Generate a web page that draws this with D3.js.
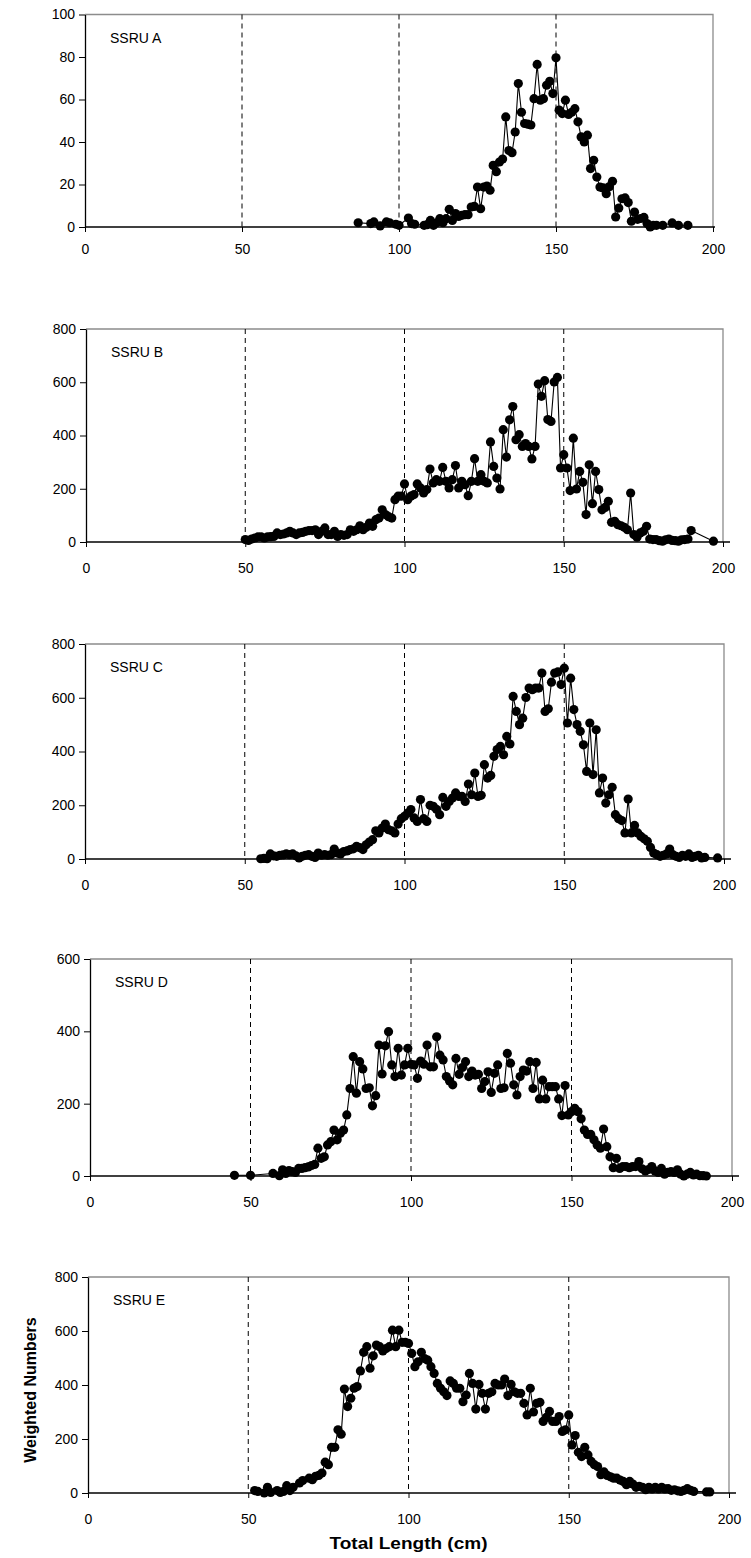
<!DOCTYPE html>
<html>
<head>
<meta charset="utf-8">
<script src="https://cdn.jsdelivr.net/npm/d3@7"></script>
<style>
  body { margin: 0; background: #fff; }
  svg { display: block; }
  text { font-family: "Liberation Sans", Arial, sans-serif; fill: #000; }
</style>
</head>
<body>
<svg id="chart" width="751" height="1558"></svg>
<script>
// tick labels / categories
const panelNames = ["SSRU A", "SSRU B", "SSRU C", "SSRU D", "SSRU E"];
const yMaxes = [100, 800, 800, 600, 800];
const yTickSteps = [20, 200, 200, 200, 200];
const xTickValues = [0, 50, 100, 150, 200];
const gridValues = [50, 100, 150];

// [total length (cm), weighted numbers]
const ssruA = [[87,2],[91,1.6],[92,2.4],[94,0.5],[96,2.4],[97,2],[99,1.3],[100,0.8],[103,4.2],[104,1.6],[105,1.3],[108,0.8],[109,1.1],[110,3.1],[111,0.8],[112,2],[113,3.9],[114,2],[115,3.9],[116,8.3],[117,3.1],[118,6.3],[119,5],[120,5.5],[121,5.8],[122,5.8],[123,9.4],[124,9.7],[125,18.8],[126,8.6],[127,18.8],[128,19.3],[129,17.3],[130,29],[131,26],[132,30.6],[133,32],[134,51.8],[135,36],[136,35],[137,44.7],[138,67.5],[139,54],[140,48.7],[141,48.4],[142,48],[143,60.4],[144,76.5],[145,59.7],[146,60.4],[147,66.7],[148,68.6],[149,62.8],[150,79.6],[151,55],[152,53.4],[153,59.7],[154,53],[155,54],[156,55.7],[157,49.5],[158,42.4],[159,40],[160,43.2],[161,27.5],[162,31.4],[163,23.5],[164,18.8],[165,18.4],[166,15.7],[167,19],[168,21.5],[169,4.7],[170,8.9],[171,13.3],[172,13.7],[173,11.5],[174,2.7],[175,7],[176,3.6],[177,4],[178,4.5],[179,1.6],[180,0],[181,0.8],[182,0.8],[184,0.8],[187,1.9],[189,0.8],[192,0.8]];

const ssruB = [[50,9],[51,6],[52,11],[53,15],[54,19],[55,19],[56,15],[57,19],[58,20],[59,21],[60,34],[61,28],[62,30],[63,34],[64,40],[65,34],[66,28],[67,34],[68,36],[69,40],[70,43],[71,43],[72,46],[73,28],[74,40],[75,53],[76,28],[77,28],[78,40],[79,21],[80,28],[81,25],[82,28],[83,46],[84,40],[85,46],[86,61],[87,46],[88,55],[89,71],[90,59],[91,84],[92,90],[93,121],[94,103],[95,95],[96,90],[97,159],[98,172],[99,172],[100,218],[101,159],[102,172],[103,178],[104,218],[105,203],[106,184],[107,197],[108,274],[109,222],[110,234],[111,228],[112,280],[113,228],[114,203],[115,234],[116,287],[117,203],[118,228],[119,215],[120,174],[121,228],[122,313],[123,228],[124,253],[125,228],[126,222],[127,376],[128,284],[129,240],[130,199],[131,422],[132,319],[133,459],[134,509],[135,384],[136,403],[137,359],[138,370],[139,359],[140,312],[141,359],[142,593],[143,547],[144,606],[145,460],[146,453],[147,601],[148,618],[149,278],[150,328],[151,278],[152,193],[153,390],[154,199],[155,265],[156,224],[157,103],[158,290],[159,144],[160,265],[161,197],[162,121],[163,130],[164,153],[165,74],[166,78],[167,65],[168,61],[169,55],[170,46],[171,184],[172,28],[173,18],[174,34],[175,40],[176,59],[177,11],[178,9],[179,9],[180,5],[181,3],[182,8],[183,11],[184,6],[185,5],[186,3],[187,8],[188,9],[189,11],[190,43],[197,3]];

const ssruC = [[55,1],[56,2],[57,1],[58,19],[59,12],[60,10],[61,14],[62,15],[63,19],[64,16],[65,19],[66,12],[67,4],[68,10],[69,14],[70,16],[71,10],[72,6],[73,22],[74,14],[75,16],[76,14],[77,16],[78,37],[79,22],[80,19],[81,28],[82,30],[83,35],[84,38],[85,47],[86,42],[87,35],[88,53],[89,63],[90,72],[91,105],[92,97],[93,115],[94,130],[95,109],[96,105],[97,97],[98,130],[99,150],[100,159],[101,171],[102,184],[103,153],[104,140],[105,221],[106,150],[107,140],[108,200],[109,196],[110,185],[111,165],[112,229],[113,196],[114,214],[115,227],[116,246],[117,233],[118,233],[119,214],[120,279],[121,239],[122,320],[123,233],[124,237],[125,351],[126,301],[127,311],[128,382],[129,407],[130,419],[131,388],[132,456],[133,428],[134,605],[135,549],[136,500],[137,524],[138,601],[139,636],[140,630],[141,636],[142,636],[143,692],[144,549],[145,559],[146,658],[147,692],[148,696],[149,649],[150,710],[151,506],[152,673],[153,556],[154,500],[155,475],[156,425],[157,326],[158,506],[159,314],[160,481],[161,246],[162,301],[163,208],[164,239],[165,267],[166,165],[167,150],[168,143],[169,97],[170,223],[171,97],[172,125],[173,97],[174,84],[175,75],[176,66],[177,43],[178,22],[179,16],[180,10],[181,14],[182,19],[183,37],[184,16],[185,10],[186,6],[187,14],[188,10],[189,19],[190,6],[191,10],[192,14],[193,4],[194,6],[198,4]];

const ssruD = [[45,2],[50,2],[57,7],[59,1],[60,17],[61,7],[62,15],[63,12],[64,10],[65,21],[66,21],[67,23],[68,25],[69,29],[70,32],[71,77],[72,49],[73,53],[74,86],[75,95],[76,127],[77,100],[78,118],[79,127],[80,169],[81,242],[82,330],[83,229],[84,316],[85,296],[86,242],[87,244],[88,194],[89,222],[90,362],[91,282],[92,360],[93,399],[94,307],[95,275],[96,353],[97,279],[98,307],[99,353],[100,309],[101,307],[102,270],[103,318],[104,309],[105,362],[106,302],[107,302],[108,385],[109,334],[110,321],[111,275],[112,263],[113,252],[114,325],[115,281],[116,300],[117,316],[118,275],[119,290],[120,279],[121,281],[122,242],[123,261],[124,288],[125,231],[126,284],[127,307],[128,242],[129,244],[130,339],[131,312],[132,252],[133,224],[134,275],[135,293],[136,290],[137,316],[138,242],[139,314],[140,213],[141,265],[142,213],[143,247],[144,247],[145,247],[146,213],[147,167],[148,250],[149,169],[150,178],[151,187],[152,178],[153,158],[154,127],[155,115],[156,115],[157,100],[158,86],[159,77],[160,130],[161,81],[162,53],[163,23],[164,49],[165,21],[166,26],[167,26],[168,23],[169,26],[170,26],[171,40],[172,20],[173,14],[174,18],[175,26],[176,14],[177,10],[178,21],[179,5],[180,10],[181,12],[182,10],[183,17],[184,5],[185,0],[186,5],[187,10],[188,3],[189,5],[190,1],[191,1],[192,0]];

const ssruE = [[52,9],[53,6],[55,0],[56,21],[57,2],[59,9],[60,2],[61,6],[62,27],[63,9],[64,21],[66,37],[67,46],[69,55],[70,49],[71,62],[72,65],[73,74],[74,114],[75,105],[76,169],[77,169],[78,234],[79,218],[80,385],[81,320],[82,351],[83,388],[84,394],[85,452],[86,521],[87,542],[88,462],[89,508],[90,548],[91,542],[92,526],[93,535],[94,542],[95,603],[96,542],[97,603],[98,558],[99,558],[100,554],[101,517],[102,468],[103,486],[104,521],[105,498],[106,492],[107,468],[108,443],[109,406],[110,388],[111,375],[112,361],[113,415],[114,406],[115,388],[116,388],[117,338],[118,363],[119,443],[120,406],[121,311],[122,402],[123,369],[124,311],[125,369],[126,375],[127,406],[128,400],[129,400],[130,422],[131,361],[132,402],[133,375],[134,369],[135,369],[136,332],[137,289],[138,388],[139,300],[140,332],[141,336],[142,265],[143,280],[144,302],[145,265],[146,265],[147,283],[148,228],[149,234],[150,289],[151,178],[152,213],[153,151],[154,135],[155,169],[156,141],[157,117],[158,105],[159,98],[160,68],[161,78],[162,65],[163,60],[164,55],[165,55],[166,48],[167,43],[168,31],[169,43],[170,33],[171,21],[172,25],[173,21],[174,12],[175,21],[176,15],[177,21],[178,15],[179,21],[180,15],[181,16],[182,10],[183,12],[184,8],[185,6],[186,10],[187,16],[188,10],[189,6],[193,4],[194,4]];

const series = [ssruA, ssruB, ssruC, ssruD, ssruE];

// plot boxes
const frames = [
  { left: 85, right: 713, top: 14.5, bottom: 227, labelDy: 22 },
  { left: 86, right: 723, top: 329, bottom: 542, labelDy: 26 },
  { left: 85, right: 724, top: 644, bottom: 859, labelDy: 26 },
  { left: 90, right: 732, top: 959, bottom: 1176, labelDy: 26 },
  { left: 88, right: 729, top: 1277, bottom: 1493, labelDy: 26 }
];

const svg = d3.select("#chart");

series.forEach((data, i) => {
  const f = frames[i];
  const x = d3.scaleLinear().domain([0, 200]).range([f.left, f.right]);
  const y = d3.scaleLinear().domain([0, yMaxes[i]]).range([f.bottom, f.top]);
  const g = svg.append("g");

  // grey frame on top and right
  g.append("path")
    .attr("d", `M${f.left},${f.top}H${f.right}V${f.bottom}`)
    .attr("fill", "none")
    .attr("stroke", "#8c8c8c")
    .attr("stroke-width", 1.3);

  // dashed verticals
  g.selectAll(".grid").data(gridValues).enter().append("line")
    .attr("x1", d => x(d)).attr("x2", d => x(d))
    .attr("y1", f.top).attr("y2", f.bottom)
    .attr("stroke", "#000")
    .attr("stroke-width", 1)
    .attr("stroke-dasharray", "5,4");

  // y axis
  const yAxis = d3.axisLeft(y)
    .tickValues(d3.range(0, yMaxes[i] + 1, yTickSteps[i]))
    .tickSize(6).tickSizeOuter(0).tickPadding(4);
  const ya = g.append("g").attr("transform", `translate(${f.left},0)`).call(yAxis);
  ya.select(".domain").attr("stroke", "#000").attr("stroke-width", 1.3);
  ya.selectAll(".tick line").attr("stroke", "#000");
  ya.selectAll(".tick text")
    .attr("font-size", 14)
    .attr("font-family", "Liberation Sans, Arial, sans-serif");

  // x axis
  const xAxis = d3.axisBottom(x).tickValues(xTickValues).tickSize(5).tickSizeOuter(0).tickFormat(d3.format("d"));
  const xa = g.append("g").attr("transform", `translate(0,${f.bottom})`).call(xAxis);
  xa.select(".domain").remove();
  xa.selectAll(".tick line").attr("stroke", "#000");
  xa.selectAll(".tick text")
    .attr("y", f.labelDy)
    .attr("dy", "0.35em")
    .attr("font-size", 14)
    .attr("font-family", "Liberation Sans, Arial, sans-serif");
  g.append("line")
    .attr("x1", f.left).attr("x2", f.right + (i === 0 ? 2 : 7))
    .attr("y1", f.bottom).attr("y2", f.bottom)
    .attr("stroke", "#000").attr("stroke-width", 1.3);

  // series
  const line = d3.line().x(d => x(d[0])).y(d => y(d[1]));
  g.append("path").datum(data)
    .attr("d", line)
    .attr("fill", "none")
    .attr("stroke", "#000")
    .attr("stroke-width", 1.1);
  g.selectAll(".dot").data(data).enter().append("circle")
    .attr("cx", d => x(d[0]))
    .attr("cy", d => y(d[1]))
    .attr("r", 4.6)
    .attr("fill", "#000");

  g.append("text")
    .attr("x", f.left + 25)
    .attr("y", f.top + 28)
    .attr("font-size", 14)
    .text(panelNames[i]);
});

// axis titles on the last panel
const last = frames[4];
svg.append("text")
  .attr("x", (last.left + last.right) / 2)
  .attr("y", 1549)
  .attr("text-anchor", "middle")
  .attr("font-size", 16)
  .attr("font-weight", "bold")
  .attr("textLength", 158)
  .attr("lengthAdjust", "spacingAndGlyphs")
  .text("Total Length (cm)");

svg.append("text")
  .attr("transform", `translate(36,1390) rotate(-90)`)
  .attr("text-anchor", "middle")
  .attr("font-size", 16)
  .attr("font-weight", "bold")
  .text("Weighted Numbers");
</script>
</body>
</html>
